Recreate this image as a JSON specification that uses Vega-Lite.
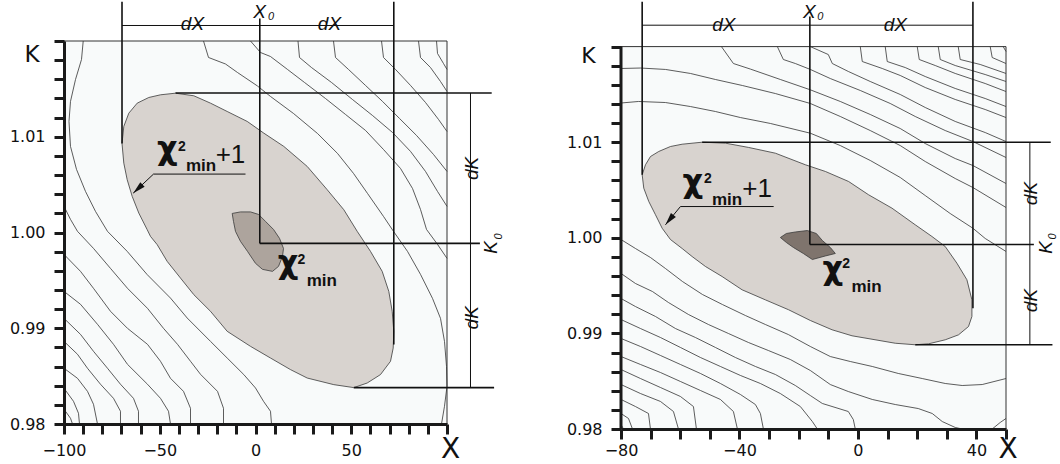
{
"$schema":"https://vega.github.io/schema/vega-lite/v6.json",
"background":"white",
"padding":{"left":9,"top":0,"right":0,"bottom":0},
"spacing":174,
"bounds":"flush",
"config":{"view":{"stroke":null}},
"datasets":{
"Lell":[{"X":-69.71,"K":1.0093},{"X":-68.77,"K":1.01108},{"X":-66.16,"K":1.01246},{"X":-61.78,"K":1.01351},{"X":-55.72,"K":1.0141},{"X":-49.61,"K":1.01438},{"X":-41.78,"K":1.01455},{"X":-32.22,"K":1.01428},{"X":-23.5,"K":1.01351},{"X":-14.78,"K":1.01264},{"X":-4.33,"K":1.0116},{"X":4.33,"K":1.01038},{"X":14.78,"K":1.00899},{"X":27.0,"K":1.0069},{"X":37.44,"K":1.00447},{"X":46.11,"K":1.00238},{"X":53.11,"K":1.00012},{"X":60.05,"K":0.99803},{"X":66.16,"K":0.99594},{"X":69.61,"K":0.99385},{"X":71.38,"K":0.99177},{"X":72.22,"K":0.98968},{"X":71.9,"K":0.98793},{"X":70.5,"K":0.98655},{"X":65.27,"K":0.98516},{"X":58.33,"K":0.98428},{"X":51.33,"K":0.9838},{"X":40.89,"K":0.98411},{"X":27.0,"K":0.9848},{"X":18.28,"K":0.98568},{"X":7.83,"K":0.98689},{"X":-2.61,"K":0.98811},{"X":-14.78,"K":0.98968},{"X":-23.5,"K":0.99177},{"X":-32.22,"K":0.99351},{"X":-39.17,"K":0.99524},{"X":-46.11,"K":0.99698},{"X":-51.33,"K":0.99873},{"X":-54.83,"K":0.99959},{"X":-56.55,"K":1.00029},{"X":-60.94,"K":1.00203},{"X":-64.39,"K":1.00377},{"X":-67.0,"K":1.00551},{"X":-68.77,"K":1.00724},{"X":-69.71,"K":1.0093}],
"Lblob":[{"X":-12.17,"K":1.00199},{"X":-11.49,"K":1.00116},{"X":-10.45,"K":1.00012},{"X":-7.83,"K":0.99907},{"X":-4.18,"K":0.99803},{"X":0.0,"K":0.99678},{"X":3.66,"K":0.99615},{"X":8.88,"K":0.99594},{"X":12.01,"K":0.99646},{"X":14.1,"K":0.99751},{"X":14.62,"K":0.99834},{"X":12.53,"K":0.99939},{"X":9.4,"K":1.00032},{"X":5.22,"K":1.00116},{"X":1.57,"K":1.00189},{"X":-2.61,"K":1.00215},{"X":-7.83,"K":1.00215},{"X":-12.17,"K":1.00199}],
"Lc":[
{"c":"L1","X":-89.97,"K":1.02},{"c":"L1","X":-90.86,"K":1.01807},{"c":"L1","X":-93.99,"K":1.01598},{"c":"L1","X":-96.61,"K":1.01369},{"c":"L1","X":-97.39,"K":1.0116},{"c":"L1","X":-96.61,"K":1.00899},{"c":"L1","X":-93.47,"K":1.00659},{"c":"L1","X":-88.77,"K":1.00429},{"c":"L1","X":-83.55,"K":1.0022},{"c":"L1","X":-77.28,"K":1.00012},{"c":"L1","X":-67.0,"K":0.99803},{"c":"L1","X":-56.55,"K":0.9956},{"c":"L1","X":-44.39,"K":0.99315},{"c":"L1","X":-35.67,"K":0.99107},{"c":"L1","X":-23.5,"K":0.98863},{"c":"L1","X":-14.78,"K":0.98689},{"c":"L1","X":-6.11,"K":0.98516},{"c":"L1","X":0.0,"K":0.98376},{"c":"L1","X":4.18,"K":0.98237},{"c":"L1","X":7.83,"K":0.98133},{"c":"L1","X":8.36,"K":0.98},
{"c":"L2","X":-100,"K":1.00273},{"c":"L2","X":-96.61,"K":1.00137},{"c":"L2","X":-92.95,"K":1.00012},{"c":"L2","X":-84.6,"K":0.99834},{"c":"L2","X":-75.72,"K":0.99625},{"c":"L2","X":-66.84,"K":0.99417},{"c":"L2","X":-56.4,"K":0.99208},{"c":"L2","X":-48.04,"K":0.98999},{"c":"L2","X":-40.73,"K":0.98832},{"c":"L2","X":-33.94,"K":0.98655},{"c":"L2","X":-28.72,"K":0.98519},{"c":"L2","X":-19.84,"K":0.98341},{"c":"L2","X":-16.71,"K":0.98164},{"c":"L2","X":-16.71,"K":0.98},
{"c":"L3","X":-100,"K":0.99771},{"c":"L3","X":-91.38,"K":0.99594},{"c":"L3","X":-84.6,"K":0.99417},{"c":"L3","X":-75.72,"K":0.99177},{"c":"L3","X":-66.84,"K":0.98999},{"c":"L3","X":-56.4,"K":0.98832},{"c":"L3","X":-49.61,"K":0.98655},{"c":"L3","X":-44.39,"K":0.98477},{"c":"L3","X":-37.6,"K":0.98341},{"c":"L3","X":-33.94,"K":0.98164},{"c":"L3","X":-33.94,"K":0.98},
{"c":"L4","X":-100,"K":0.99385},{"c":"L4","X":-91.38,"K":0.9925},{"c":"L4","X":-82.51,"K":0.99041},{"c":"L4","X":-74.15,"K":0.98832},{"c":"L4","X":-66.84,"K":0.98623},{"c":"L4","X":-56.4,"K":0.98415},{"c":"L4","X":-49.61,"K":0.98268},{"c":"L4","X":-45.43,"K":0.98133},{"c":"L4","X":-44.39,"K":0.98},
{"c":"L5","X":-100,"K":0.99103},{"c":"L5","X":-91.38,"K":0.98936},{"c":"L5","X":-84.6,"K":0.98759},{"c":"L5","X":-77.28,"K":0.98582},{"c":"L5","X":-70.5,"K":0.98415},{"c":"L5","X":-63.71,"K":0.98268},{"c":"L5","X":-61.1,"K":0.98133},{"c":"L5","X":-61.1,"K":0.98},
{"c":"L6","X":-100,"K":0.98863},{"c":"L6","X":-92.95,"K":0.98728},{"c":"L6","X":-87.73,"K":0.98582},{"c":"L6","X":-80.94,"K":0.98415},{"c":"L6","X":-74.15,"K":0.98268},{"c":"L6","X":-70.5,"K":0.98133},{"c":"L6","X":-70.5,"K":0.98},
{"c":"L7","X":-100,"K":0.98582},{"c":"L7","X":-92.95,"K":0.98477},{"c":"L7","X":-87.73,"K":0.98341},{"c":"L7","X":-84.6,"K":0.98206},{"c":"L7","X":-82.51,"K":0.98},
{"c":"L8","X":-100,"K":0.98373},{"c":"L8","X":-95.04,"K":0.98237},{"c":"L8","X":-92.43,"K":0.98112},{"c":"L8","X":-91.91,"K":0.98},
{"c":"L9","X":-100,"K":0.98154},{"c":"L9","X":-96.61,"K":0.9806},{"c":"L9","X":-95.56,"K":0.98},
{"c":"R1","X":-27.15,"K":1.02},{"c":"R1","X":-24.54,"K":1.01828},{"c":"R1","X":-15.67,"K":1.0176},{"c":"R1","X":-9.4,"K":1.01671},{"c":"R1","X":1.04,"K":1.0153},{"c":"R1","X":7.83,"K":1.01421},{"c":"R1","X":19.84,"K":1.01243},{"c":"R1","X":32.38,"K":1.01034},{"c":"R1","X":42.82,"K":1.00826},{"c":"R1","X":51.18,"K":1.00617},{"c":"R1","X":58.49,"K":1.00408},{"c":"R1","X":66.84,"K":1.00168},{"c":"R1","X":72.06,"K":1.00012},{"c":"R1","X":79.37,"K":0.99803},{"c":"R1","X":86.16,"K":0.99563},{"c":"R1","X":92.43,"K":0.99312},{"c":"R1","X":96.61,"K":0.99103},{"c":"R1","X":98.69,"K":0.98863},{"c":"R1","X":99.74,"K":0.98602},{"c":"R1","X":100,"K":0.98394},{"c":"R1","X":98.69,"K":0.98185},{"c":"R1","X":97.13,"K":0.98},
{"c":"R2","X":-2.61,"K":1.02},{"c":"R2","X":2.61,"K":1.0188},{"c":"R2","X":7.83,"K":1.01838},{"c":"R2","X":16.71,"K":1.01703},{"c":"R2","X":25.59,"K":1.01567},{"c":"R2","X":36.51,"K":1.014},{"c":"R2","X":47.0,"K":1.01233},{"c":"R2","X":57.45,"K":1.01066},{"c":"R2","X":66.84,"K":1.00867},{"c":"R2","X":75.72,"K":1.00669},{"c":"R2","X":81.99,"K":1.0046},{"c":"R2","X":86.16,"K":1.00241},{"c":"R2","X":89.3,"K":1.00032},{"c":"R2","X":95.04,"K":0.99876},{"c":"R2","X":100,"K":0.9973},
{"c":"R3","X":22.19,"K":1.02},{"c":"R3","X":22.98,"K":1.01828},{"c":"R3","X":29.24,"K":1.01723},{"c":"R3","X":39.69,"K":1.01567},{"c":"R3","X":50.65,"K":1.01389},{"c":"R3","X":61.1,"K":1.01222},{"c":"R3","X":71.54,"K":1.01045},{"c":"R3","X":80.94,"K":1.00847},{"c":"R3","X":88.77,"K":1.00638},{"c":"R3","X":95.04,"K":1.00429},{"c":"R3","X":100,"K":1.00273},
{"c":"R4","X":40.73,"K":1.02},{"c":"R4","X":41.77,"K":1.01828},{"c":"R4","X":48.56,"K":1.01703},{"c":"R4","X":57.44,"K":1.01536},{"c":"R4","X":66.32,"K":1.01369},{"c":"R4","X":75.2,"K":1.01191},{"c":"R4","X":84.07,"K":1.01014},{"c":"R4","X":92.95,"K":1.00815},{"c":"R4","X":100,"K":1.00638},
{"c":"R5","X":65.8,"K":1.02},{"c":"R5","X":66.84,"K":1.01828},{"c":"R5","X":73.11,"K":1.01703},{"c":"R5","X":80.94,"K":1.01536},{"c":"R5","X":88.77,"K":1.01358},{"c":"R5","X":95.56,"K":1.01181},{"c":"R5","X":100,"K":1.01055},
{"c":"R6","X":85.12,"K":1.02},{"c":"R6","X":86.16,"K":1.01828},{"c":"R6","X":91.38,"K":1.01723},{"c":"R6","X":96.61,"K":1.01577},{"c":"R6","X":100,"K":1.01473},
{"c":"R7","X":94.52,"K":1.02},{"c":"R7","X":95.04,"K":1.0187},{"c":"R7","X":98.17,"K":1.01765},{"c":"R7","X":100,"K":1.01703}
],
"Lr":[
{"w":1,"X":-69.71,"K":1.0241,"X2":-69.71,"K2":1.0093},{"w":1,"X":72.22,"K":1.0241,"X2":72.22,"K2":0.98829},{"w":1,"X":2.24,"K":1.02235,"X2":2.24,"K2":0.99886},{"w":1,"X":2.24,"K":0.99886,"X2":117.18,"K2":0.99886},{"w":1,"X":-41.78,"K":1.01457,"X2":123.34,"K2":1.01457},{"w":1,"X":51.33,"K":0.9838,"X2":124.59,"K2":0.9838},
{"w":2,"X":-69.71,"K":1.02162,"X2":72.22,"K2":1.02162},{"w":2,"X":112.27,"K":1.01457,"X2":112.27,"K2":0.9838},{"w":2,"X":-53.26,"K":1.0061,"X2":-5.22,"K2":1.0061},{"w":2,"X":-53.26,"K":1.0061,"X2":-63.86,"K2":1.00411}
],
"La":[{"X":-63.86,"K":1.00411}],
"Lt":[
{"s":"it","t":"dX","X":-32.9,"K":1.02113},{"s":"it","t":"dX","X":38.64,"K":1.02113},{"s":"it","t":"X","X":2.09,"K":1.02235},
{"s":"sub","t":"0","X":8.09,"K":1.02219},
{"s":"itr","t":"dK","X":115.93,"K":1.00669},{"s":"itr","t":"dK","X":115.93,"K":0.99109},{"s":"itr","t":"K","X":126.37,"K":0.99845},
{"s":"subr","t":"0","X":128.46,"K":0.99959},
{"s":"chi","t":"\u03c7","X":-46.11,"K":1.00763},{"s":"chi","t":"\u03c7","X":16.97,"K":0.99573},
{"s":"sup","t":"2","X":-38.38,"K":1.00847},{"s":"sup","t":"2","X":23.91,"K":0.99667},
{"s":"min","t":"min","X":-28.46,"K":1.00638},{"s":"min","t":"min","X":34.62,"K":0.99437},
{"s":"plus","t":"+1","X":-13.06,"K":1.00721}
],
"Rell":[{"X":-72.85,"K":1.00659},{"X":-71.73,"K":1.00764},{"X":-70.05,"K":1.0085},{"X":-67.25,"K":1.00903},{"X":-63.3,"K":1.00955},{"X":-59.35,"K":1.00979},{"X":-52.6,"K":1.01},{"X":-44.74,"K":1.0099},{"X":-36.88,"K":1.00945},{"X":-27.87,"K":1.00885},{"X":-17.75,"K":1.00764},{"X":-10.99,"K":1.00694},{"X":-3.14,"K":1.00589},{"X":3.6,"K":1.0045},{"X":11.5,"K":1.0031},{"X":19.36,"K":1.00136},{"X":24.99,"K":1.00014},{"X":29.48,"K":0.99909},{"X":33.43,"K":0.99734},{"X":36.8,"K":0.99561},{"X":38.49,"K":0.99351},{"X":38.49,"K":0.99177},{"X":37.34,"K":0.99072},{"X":33.97,"K":0.98985},{"X":29.48,"K":0.98933},{"X":23.85,"K":0.98891},{"X":19.36,"K":0.98881},{"X":12.61,"K":0.98897},{"X":4.75,"K":0.98939},{"X":-2.0,"K":0.98975},{"X":-8.74,"K":0.99038},{"X":-16.07,"K":0.99135},{"X":-23.39,"K":0.99247},{"X":-31.25,"K":0.99351},{"X":-39.11,"K":0.99456},{"X":-45.86,"K":0.99595},{"X":-51.49,"K":0.997},{"X":-55.98,"K":0.99804},{"X":-59.35,"K":0.99888},{"X":-63.3,"K":0.99982},{"X":-66.1,"K":1.001},{"X":-68.36,"K":1.00241},{"X":-70.62,"K":1.0038},{"X":-72.31,"K":1.00519},{"X":-72.85,"K":1.00659}],
"Rblob":[{"X":-26.19,"K":1.00003},{"X":-24.16,"K":1.00045},{"X":-21.13,"K":1.00061},{"X":-17.08,"K":1.00076},{"X":-14.04,"K":1.00045},{"X":-12.02,"K":0.99972},{"X":-9.32,"K":0.99899},{"X":-7.63,"K":0.99836},{"X":-11.0,"K":0.9981},{"X":-15.39,"K":0.99773},{"X":-18.43,"K":0.99836},{"X":-21.8,"K":0.99899},{"X":-24.16,"K":0.99951},{"X":-26.19,"K":1.00003}],
"Rc":[
{"c":"T3","X":-16.07,"K":1.02},{"c":"T3","X":-10.0,"K":1.01917},{"c":"T3","X":-8.65,"K":1.01823},{"c":"T3","X":-3.25,"K":1.0174},{"c":"T3","X":4.16,"K":1.01635},{"c":"T3","X":14.29,"K":1.01499},{"c":"T3","X":22.73,"K":1.01363},{"c":"T3","X":32.86,"K":1.01217},{"c":"T3","X":42.98,"K":1.01101},{"c":"T3","X":50,"K":1.01007},
{"c":"T4","X":0.8,"K":1.02},{"c":"T4","X":1.47,"K":1.01844},{"c":"T4","X":8.21,"K":1.01771},{"c":"T4","X":14.29,"K":1.01698},{"c":"T4","X":22.73,"K":1.01572},{"c":"T4","X":32.86,"K":1.01447},{"c":"T4","X":42.98,"K":1.01342},{"c":"T4","X":50,"K":1.01258},
{"c":"T4b","X":9.22,"K":1.02},{"c":"T4b","X":9.9,"K":1.01844},{"c":"T4b","X":15.97,"K":1.01781},{"c":"T4b","X":22.73,"K":1.01687},{"c":"T4b","X":32.86,"K":1.01562},{"c":"T4b","X":42.98,"K":1.01457},{"c":"T4b","X":50,"K":1.01373},
{"c":"T5","X":20.03,"K":1.02},{"c":"T5","X":20.71,"K":1.01865},{"c":"T5","X":26.11,"K":1.01802},{"c":"T5","X":32.86,"K":1.01719},{"c":"T5","X":42.98,"K":1.01614},{"c":"T5","X":50,"K":1.0153},
{"c":"T6","X":27.12,"K":1.02},{"c":"T6","X":27.8,"K":1.01865},{"c":"T6","X":32.86,"K":1.01802},{"c":"T6","X":42.98,"K":1.01708},{"c":"T6","X":50,"K":1.01635},
{"c":"T7","X":33.87,"K":1.02},{"c":"T7","X":34.54,"K":1.01865},{"c":"T7","X":41.29,"K":1.01813},{"c":"T7","X":50,"K":1.01719},
{"c":"T8","X":44.67,"K":1.02},{"c":"T8","X":45.34,"K":1.01886},{"c":"T8","X":50,"K":1.01823},
{"c":"T9","X":49.05,"K":1.02},{"c":"T9","X":50,"K":1.01949},
{"c":"T2","X":-27.2,"K":1.02},{"c":"T2","X":-25.18,"K":1.01865},{"c":"T2","X":-21.13,"K":1.01823},{"c":"T2","X":-16.07,"K":1.01761},{"c":"T2","X":-9.32,"K":1.01666},{"c":"T2","X":0.8,"K":1.01541},{"c":"T2","X":10.91,"K":1.01405},{"c":"T2","X":19.36,"K":1.01269},{"c":"T2","X":29.48,"K":1.01122},{"c":"T2","X":38.83,"K":1.01007},{"c":"T2","X":50,"K":1.0084},
{"c":"T1","X":-46.09,"K":1.02},{"c":"T1","X":-42.04,"K":1.01823},{"c":"T1","X":-36.31,"K":1.01765},{"c":"T1","X":-26.19,"K":1.01656},{"c":"T1","X":-16.07,"K":1.01548},{"c":"T1","X":-5.95,"K":1.01426},{"c":"T1","X":4.16,"K":1.0129},{"c":"T1","X":14.29,"K":1.01143},{"c":"T1","X":22.73,"K":1.00986},{"c":"T1","X":32.86,"K":1.00829},{"c":"T1","X":38.83,"K":1.00756},{"c":"T1","X":50,"K":1.00568},
{"c":"U1","X":-80,"K":1.01771},{"c":"U1","X":-73.42,"K":1.01776},{"c":"U1","X":-64.99,"K":1.01761},{"c":"U1","X":-56.55,"K":1.01719},{"c":"U1","X":-48.12,"K":1.01656},{"c":"U1","X":-39.01,"K":1.01593},{"c":"U1","X":-27.87,"K":1.01509},{"c":"U1","X":-16.07,"K":1.01405},{"c":"U1","X":-5.95,"K":1.01269},{"c":"U1","X":4.16,"K":1.01122},{"c":"U1","X":14.29,"K":1.00965},{"c":"U1","X":22.73,"K":1.00798},{"c":"U1","X":32.86,"K":1.0062},{"c":"U1","X":38.83,"K":1.00526},{"c":"U1","X":50,"K":1.00317},
{"c":"U2","X":-80,"K":1.0141},{"c":"U2","X":-74.1,"K":1.01426},{"c":"U2","X":-64.99,"K":1.01415},{"c":"U2","X":-56.55,"K":1.01373},{"c":"U2","X":-48.12,"K":1.01321},{"c":"U2","X":-39.68,"K":1.01258},{"c":"U2","X":-29.56,"K":1.01196},{"c":"U2","X":-16.07,"K":1.01094},{"c":"U2","X":-5.95,"K":1.00965},{"c":"U2","X":4.16,"K":1.00809},{"c":"U2","X":14.29,"K":1.00631},{"c":"U2","X":22.73,"K":1.00442},{"c":"U2","X":31.17,"K":1.00254},{"c":"U2","X":38.83,"K":1.001},{"c":"U2","X":42.98,"K":0.99993},{"c":"U2","X":50,"K":0.99857},
{"c":"A","X":-80,"K":0.99982},{"c":"A","X":-75.11,"K":0.99888},{"c":"A","X":-70.05,"K":0.99794},{"c":"A","X":-64.99,"K":0.99679},{"c":"A","X":-59.25,"K":0.99543},{"c":"A","X":-52.5,"K":0.99407},{"c":"A","X":-45.75,"K":0.99302},{"c":"A","X":-37.99,"K":0.99187},{"c":"A","X":-31.25,"K":0.99093},{"c":"A","X":-23.49,"K":0.98988},{"c":"A","X":-16.07,"K":0.98863},{"c":"A","X":-9.32,"K":0.98758},{"c":"A","X":-2.57,"K":0.98706},{"c":"A","X":4.84,"K":0.98654},{"c":"A","X":13.62,"K":0.98581},{"c":"A","X":21.72,"K":0.98528},{"c":"A","X":29.48,"K":0.98476},{"c":"A","X":35.21,"K":0.98455},{"c":"A","X":41.96,"K":0.98465},{"c":"A","X":50,"K":0.98528},
{"c":"B","X":-80,"K":0.99627},{"c":"B","X":-75.11,"K":0.99522},{"c":"B","X":-69.37,"K":0.99438},{"c":"B","X":-63.97,"K":0.99323},{"c":"B","X":-57.23,"K":0.99198},{"c":"B","X":-50.48,"K":0.99093},{"c":"B","X":-43.73,"K":0.98999},{"c":"B","X":-36.98,"K":0.98905},{"c":"B","X":-30.24,"K":0.98821},{"c":"B","X":-22.82,"K":0.98727},{"c":"B","X":-16.07,"K":0.98612},{"c":"B","X":-9.32,"K":0.98465},{"c":"B","X":-3.25,"K":0.98392},{"c":"B","X":4.84,"K":0.98309},{"c":"B","X":12.61,"K":0.98256},{"c":"B","X":20.37,"K":0.98214},{"c":"B","X":25.1,"K":0.98162},{"c":"B","X":28.47,"K":0.98078},{"c":"B","X":32.86,"K":0.98016},{"c":"B","X":35.21,"K":0.98},
{"c":"C","X":-80,"K":0.99365},{"c":"C","X":-75.11,"K":0.99281},{"c":"C","X":-68.36,"K":0.99177},{"c":"C","X":-61.61,"K":0.99051},{"c":"C","X":-54.86,"K":0.98957},{"c":"C","X":-48.12,"K":0.98853},{"c":"C","X":-41.37,"K":0.98748},{"c":"C","X":-34.62,"K":0.98654},{"c":"C","X":-27.87,"K":0.9857},{"c":"C","X":-21.13,"K":0.98455},{"c":"C","X":-16.07,"K":0.9835},{"c":"C","X":-12.02,"K":0.98267},{"c":"C","X":-3.25,"K":0.98183},{"c":"C","X":-1.56,"K":0.98099},{"c":"C","X":-0.89,"K":0.98},
{"c":"D","X":-80,"K":0.99145},{"c":"D","X":-73.42,"K":0.99051},{"c":"D","X":-66.67,"K":0.98957},{"c":"D","X":-59.93,"K":0.98853},{"c":"D","X":-53.18,"K":0.98748},{"c":"D","X":-46.43,"K":0.98654},{"c":"D","X":-39.68,"K":0.9856},{"c":"D","X":-32.93,"K":0.98476},{"c":"D","X":-26.19,"K":0.98371},{"c":"D","X":-19.44,"K":0.98235},{"c":"D","X":-15.39,"K":0.98078},{"c":"D","X":-13.7,"K":0.98},
{"c":"E","X":-80,"K":0.98947},{"c":"E","X":-73.42,"K":0.98863},{"c":"E","X":-66.67,"K":0.98769},{"c":"E","X":-59.93,"K":0.98675},{"c":"E","X":-53.18,"K":0.98581},{"c":"E","X":-46.43,"K":0.98476},{"c":"E","X":-39.68,"K":0.98361},{"c":"E","X":-34.62,"K":0.98256},{"c":"E","X":-32.93,"K":0.98162},{"c":"E","X":-31.92,"K":0.98},
{"c":"F","X":-80,"K":0.98758},{"c":"F","X":-73.42,"K":0.98675},{"c":"F","X":-66.67,"K":0.98591},{"c":"F","X":-59.93,"K":0.98497},{"c":"F","X":-53.18,"K":0.98403},{"c":"F","X":-46.43,"K":0.98309},{"c":"F","X":-42.04,"K":0.98183},{"c":"F","X":-40.69,"K":0.98},
{"c":"G","X":-80,"K":0.98622},{"c":"G","X":-73.42,"K":0.98528},{"c":"G","X":-66.67,"K":0.98434},{"c":"G","X":-59.93,"K":0.9834},{"c":"G","X":-55.54,"K":0.98235},{"c":"G","X":-54.53,"K":0.98},
{"c":"H","X":-80,"K":0.98465},{"c":"H","X":-73.42,"K":0.98371},{"c":"H","X":-66.67,"K":0.98288},{"c":"H","X":-62.29,"K":0.98183},{"c":"H","X":-60.6,"K":0.98},
{"c":"I","X":-80,"K":0.98309},{"c":"I","X":-75.11,"K":0.98235},{"c":"I","X":-70.72,"K":0.98162},{"c":"I","X":-70.05,"K":0.98},
{"c":"J","X":-80,"K":0.98162},{"c":"J","X":-77.47,"K":0.9811},{"c":"J","X":-76.12,"K":0.98},
{"c":"Kk","X":-80,"K":0.98047},{"c":"Kk","X":-79.16,"K":0.98},
{"c":"Z","X":45.34,"K":0.98},{"c":"Z","X":48.04,"K":0.98068},{"c":"Z","X":50,"K":0.9811}
],
"Rr":[
{"w":1,"X":-72.85,"K":1.0247,"X2":-72.85,"K2":1.00659},{"w":1,"X":38.83,"K":1.0247,"X2":38.83,"K2":0.99264},{"w":1,"X":-16.23,"K":1.02315,"X2":-16.23,"K2":0.9993},{"w":1,"X":-16.23,"K":0.9993,"X2":59.41,"K2":0.9993},{"w":1,"X":-52.6,"K":1.01,"X2":65.11,"K2":1.01},{"w":1,"X":19.36,"K":0.98881,"X2":65.68,"K2":0.98881},
{"w":2,"X":-72.85,"K":1.02224,"X2":38.83,"K2":1.02224},{"w":2,"X":58.06,"K":1.01,"X2":58.06,"K2":0.98881},{"w":2,"X":-59.93,"K":1.00327,"X2":-28.45,"K2":1.00327},{"w":2,"X":-59.93,"K":1.00327,"X2":-64.99,"K2":1.00136},
{"w":3,"X":-80,"K":0.98,"X2":-80,"K2":1.02}
],
"Ra":[{"X":-64.99,"K":1.00136}],
"Rt":[
{"s":"it","t":"dX","X":-45.25,"K":1.02158},{"s":"it","t":"dX","X":12.61,"K":1.02158},{"s":"it","t":"X","X":-16.4,"K":1.02294},
{"s":"sub","t":"0","X":-12.69,"K":1.02278},
{"s":"itr","t":"dK","X":60.52,"K":1.00463},{"s":"itr","t":"dK","X":60.52,"K":0.99344},{"s":"itr","t":"K","X":65.58,"K":0.99899},
{"s":"subr","t":"0","X":66.93,"K":1.00014},
{"s":"chi","t":"\u03c7","X":-55.71,"K":1.00484},{"s":"chi","t":"\u03c7","X":-8.47,"K":0.99574},
{"s":"sup","t":"2","X":-50.65,"K":1.00571},{"s":"sup","t":"2","X":-3.99,"K":0.99682},
{"s":"min","t":"min","X":-44.17,"K":1.00345},{"s":"min","t":"min","X":2.93,"K":0.99438},
{"s":"plus","t":"+1","X":-34.05,"K":1.00432}
]
},
"hconcat":[
{
"width":383,"height":383,
"encoding":{
"x":{"field":"X","type":"quantitative","scale":{"domain":[-100,100],"nice":false,"zero":false},
"axis":{"values":[-100,-90,-80,-70,-60,-50,-40,-30,-20,-10,0,10,20,30,40,50,60,70,80,90,100],"format":"d","labelExpr":"(datum.value % 50 == 0 && datum.value < 100) ? datum.label : ''","tickSize":10,"tickWidth":3,"tickColor":"#1a1a1a","domainColor":"#1a1a1a","domainWidth":3,"grid":false,"labelFont":"DejaVu Sans","labelFontSize":16,"labelColor":"#111","labelPadding":8,"labelFlush":false,"labelOverlap":false,"title":"X","titleFont":"DejaVu Sans","titleFontSize":28,"titleFontWeight":"normal","titleColor":"#111","titleX":386,"titleY":25,"titleAlign":"center","titleBaseline":"middle","zindex":1}},
"y":{"field":"K","type":"quantitative","scale":{"domain":[0.98,1.02],"nice":false,"zero":false},
"axis":{"values":[0.98,0.982,0.984,0.986,0.988,0.99,0.992,0.994,0.996,0.998,1,1.002,1.004,1.006,1.008,1.01,1.012,1.014,1.016,1.018,1.02],"labelExpr":"(abs(datum.value*100 - round(datum.value*100)) < 0.01 && datum.value < 1.015) ? format(datum.value, '.2f') : ''","tickSize":10,"tickWidth":3,"tickColor":"#1a1a1a","domainColor":"#1a1a1a","domainWidth":3,"grid":false,"labelFont":"DejaVu Sans","labelFontSize":16,"labelColor":"#111","labelPadding":9,"labelFlush":false,"labelOverlap":false,"title":"K","titleFont":"DejaVu Sans","titleFontSize":23,"titleFontWeight":"normal","titleColor":"#111","titleAngle":0,"titleX":-32.5,"titleY":13,"titleAlign":"center","titleBaseline":"middle","zindex":1}}
},
"layer":[
{"data":{"values":[{"X":-100,"K":0.98,"X2":100,"K2":1.02}]},"mark":{"type":"rect","fill":"#f8fafa","stroke":"#333333","strokeWidth":1},"encoding":{"x2":{"field":"X2"},"y2":{"field":"K2"}}},
{"data":{"name":"Lell"},"mark":{"type":"line","fill":"#d8d3cf","stroke":"#3a3a3a","strokeWidth":0.8},"encoding":{"order":{"value":null}}},
{"data":{"name":"Lblob"},"mark":{"type":"line","fill":"#ada49d","stroke":"#3a3a3a","strokeWidth":0.8},"encoding":{"order":{"value":null}}},
{"data":{"name":"Lc"},"mark":{"type":"line","stroke":"#333333","strokeWidth":0.8},"encoding":{"detail":{"field":"c"},"order":{"value":null}}},
{"data":{"name":"Lr"},"transform":[{"filter":"datum.w == 1"}],"mark":{"type":"rule","color":"#111","strokeWidth":1.6},"encoding":{"x2":{"field":"X2"},"y2":{"field":"K2"}}},
{"data":{"name":"Lr"},"transform":[{"filter":"datum.w == 2"}],"mark":{"type":"rule","color":"#111","strokeWidth":1},"encoding":{"x2":{"field":"X2"},"y2":{"field":"K2"}}},
{"data":{"name":"La"},"mark":{"type":"point","shape":"M0,0L0.5,2L-0.5,2Z","filled":true,"color":"#111","opacity":1,"size":160,"angle":227,"strokeWidth":0}},
{"data":{"name":"Lt"},"transform":[{"filter":"datum.s == 'it'"}],"mark":{"type":"text","font":"Liberation Sans","fontStyle":"italic","fontSize":19,"align":"center","baseline":"alphabetic","color":"#111"},"encoding":{"text":{"field":"t"}}},
{"data":{"name":"Lt"},"transform":[{"filter":"datum.s == 'sub'"}],"mark":{"type":"text","font":"Liberation Sans","fontStyle":"italic","fontSize":11,"align":"center","baseline":"alphabetic","color":"#111"},"encoding":{"text":{"field":"t"}}},
{"data":{"name":"Lt"},"transform":[{"filter":"datum.s == 'itr'"}],"mark":{"type":"text","font":"Liberation Sans","fontStyle":"italic","fontSize":19,"align":"center","baseline":"alphabetic","angle":270,"color":"#111"},"encoding":{"text":{"field":"t"}}},
{"data":{"name":"Lt"},"transform":[{"filter":"datum.s == 'subr'"}],"mark":{"type":"text","font":"Liberation Sans","fontStyle":"italic","fontSize":11,"align":"center","baseline":"alphabetic","angle":270,"color":"#111"},"encoding":{"text":{"field":"t"}}},
{"data":{"name":"Lt"},"transform":[{"filter":"datum.s == 'chi'"}],"mark":{"type":"text","font":"DejaVu Sans","fontWeight":"bold","fontSize":32,"align":"center","baseline":"alphabetic","color":"#111"},"encoding":{"text":{"field":"t"}}},
{"data":{"name":"Lt"},"transform":[{"filter":"datum.s == 'sup'"}],"mark":{"type":"text","font":"Liberation Sans","fontWeight":"bold","fontSize":14,"align":"center","baseline":"alphabetic","color":"#111"},"encoding":{"text":{"field":"t"}}},
{"data":{"name":"Lt"},"transform":[{"filter":"datum.s == 'min'"}],"mark":{"type":"text","font":"Liberation Sans","fontWeight":"bold","fontSize":17,"align":"center","baseline":"alphabetic","color":"#111"},"encoding":{"text":{"field":"t"}}},
{"data":{"name":"Lt"},"transform":[{"filter":"datum.s == 'plus'"}],"mark":{"type":"text","font":"Liberation Sans","fontSize":26,"align":"center","baseline":"alphabetic","color":"#111"},"encoding":{"text":{"field":"t"}}}
]
},
{
"width":385,"height":388,
"encoding":{
"x":{"field":"X","type":"quantitative","scale":{"domain":[-80,50],"nice":false,"zero":false},
"axis":{"values":[-80,-70,-60,-50,-40,-30,-20,-10,0,10,20,30,40,50],"format":"d","labelExpr":"(datum.value % 40 == 0 && datum.value < 50) ? datum.label : ''","tickSize":10,"tickWidth":3,"tickColor":"#1a1a1a","domainColor":"#1a1a1a","domainWidth":3,"grid":false,"labelFont":"DejaVu Sans","labelFontSize":16,"labelColor":"#111","labelPadding":3,"labelFlush":false,"labelOverlap":false,"title":"X","titleFont":"DejaVu Sans","titleFontSize":28,"titleFontWeight":"normal","titleColor":"#111","titleX":386.5,"titleY":20.5,"titleAlign":"center","titleBaseline":"middle","zindex":1}},
"y":{"field":"K","type":"quantitative","scale":{"domain":[0.98,1.020586],"nice":false,"zero":false},
"axis":{"values":[0.98,0.982,0.984,0.986,0.988,0.99,0.992,0.994,0.996,0.998,1,1.002,1.004,1.006,1.008,1.01,1.012,1.014,1.016,1.018,1.02],"labelExpr":"(abs(datum.value*100 - round(datum.value*100)) < 0.01 && datum.value < 1.015) ? format(datum.value, '.2f') : ''","domain":false,"tickSize":10,"tickWidth":3,"tickColor":"#1a1a1a","grid":false,"labelFont":"DejaVu Sans","labelFontSize":16,"labelColor":"#111","labelPadding":9,"labelFlush":false,"labelOverlap":false,"title":"K","titleFont":"DejaVu Sans","titleFontSize":22,"titleFontWeight":"normal","titleColor":"#111","titleAngle":0,"titleX":-33,"titleY":14.5,"titleAlign":"center","titleBaseline":"middle","zindex":1}}
},
"layer":[
{"data":{"values":[{"X":-80,"K":0.98,"X2":50,"K2":1.02}]},"mark":{"type":"rect","fill":"#f8fafa","stroke":"#333333","strokeWidth":1},"encoding":{"x2":{"field":"X2"},"y2":{"field":"K2"}}},
{"data":{"name":"Rell"},"mark":{"type":"line","fill":"#d8d3cf","stroke":"#3a3a3a","strokeWidth":0.8},"encoding":{"order":{"value":null}}},
{"data":{"name":"Rblob"},"mark":{"type":"line","fill":"#7f746d","stroke":"#3a3a3a","strokeWidth":0.8},"encoding":{"order":{"value":null}}},
{"data":{"name":"Rc"},"mark":{"type":"line","stroke":"#333333","strokeWidth":0.8},"encoding":{"detail":{"field":"c"},"order":{"value":null}}},
{"data":{"name":"Rr"},"transform":[{"filter":"datum.w == 1"}],"mark":{"type":"rule","color":"#111","strokeWidth":1.6},"encoding":{"x2":{"field":"X2"},"y2":{"field":"K2"}}},
{"data":{"name":"Rr"},"transform":[{"filter":"datum.w == 2"}],"mark":{"type":"rule","color":"#111","strokeWidth":1},"encoding":{"x2":{"field":"X2"},"y2":{"field":"K2"}}},
{"data":{"name":"Rr"},"transform":[{"filter":"datum.w == 3"}],"mark":{"type":"rule","color":"#1a1a1a","strokeWidth":3},"encoding":{"x2":{"field":"X2"},"y2":{"field":"K2"}}},
{"data":{"name":"Ra"},"mark":{"type":"point","shape":"M0,0L0.5,2L-0.5,2Z","filled":true,"color":"#111","opacity":1,"size":160,"angle":219,"strokeWidth":0}},
{"data":{"name":"Rt"},"transform":[{"filter":"datum.s == 'it'"}],"mark":{"type":"text","font":"Liberation Sans","fontStyle":"italic","fontSize":19,"align":"center","baseline":"alphabetic","color":"#111"},"encoding":{"text":{"field":"t"}}},
{"data":{"name":"Rt"},"transform":[{"filter":"datum.s == 'sub'"}],"mark":{"type":"text","font":"Liberation Sans","fontStyle":"italic","fontSize":11,"align":"center","baseline":"alphabetic","color":"#111"},"encoding":{"text":{"field":"t"}}},
{"data":{"name":"Rt"},"transform":[{"filter":"datum.s == 'itr'"}],"mark":{"type":"text","font":"Liberation Sans","fontStyle":"italic","fontSize":19,"align":"center","baseline":"alphabetic","angle":270,"color":"#111"},"encoding":{"text":{"field":"t"}}},
{"data":{"name":"Rt"},"transform":[{"filter":"datum.s == 'subr'"}],"mark":{"type":"text","font":"Liberation Sans","fontStyle":"italic","fontSize":11,"align":"center","baseline":"alphabetic","angle":270,"color":"#111"},"encoding":{"text":{"field":"t"}}},
{"data":{"name":"Rt"},"transform":[{"filter":"datum.s == 'chi'"}],"mark":{"type":"text","font":"DejaVu Sans","fontWeight":"bold","fontSize":32,"align":"center","baseline":"alphabetic","color":"#111"},"encoding":{"text":{"field":"t"}}},
{"data":{"name":"Rt"},"transform":[{"filter":"datum.s == 'sup'"}],"mark":{"type":"text","font":"Liberation Sans","fontWeight":"bold","fontSize":14,"align":"center","baseline":"alphabetic","color":"#111"},"encoding":{"text":{"field":"t"}}},
{"data":{"name":"Rt"},"transform":[{"filter":"datum.s == 'min'"}],"mark":{"type":"text","font":"Liberation Sans","fontWeight":"bold","fontSize":17,"align":"center","baseline":"alphabetic","color":"#111"},"encoding":{"text":{"field":"t"}}},
{"data":{"name":"Rt"},"transform":[{"filter":"datum.s == 'plus'"}],"mark":{"type":"text","font":"Liberation Sans","fontSize":26,"align":"center","baseline":"alphabetic","color":"#111"},"encoding":{"text":{"field":"t"}}}
]
}
]
}
